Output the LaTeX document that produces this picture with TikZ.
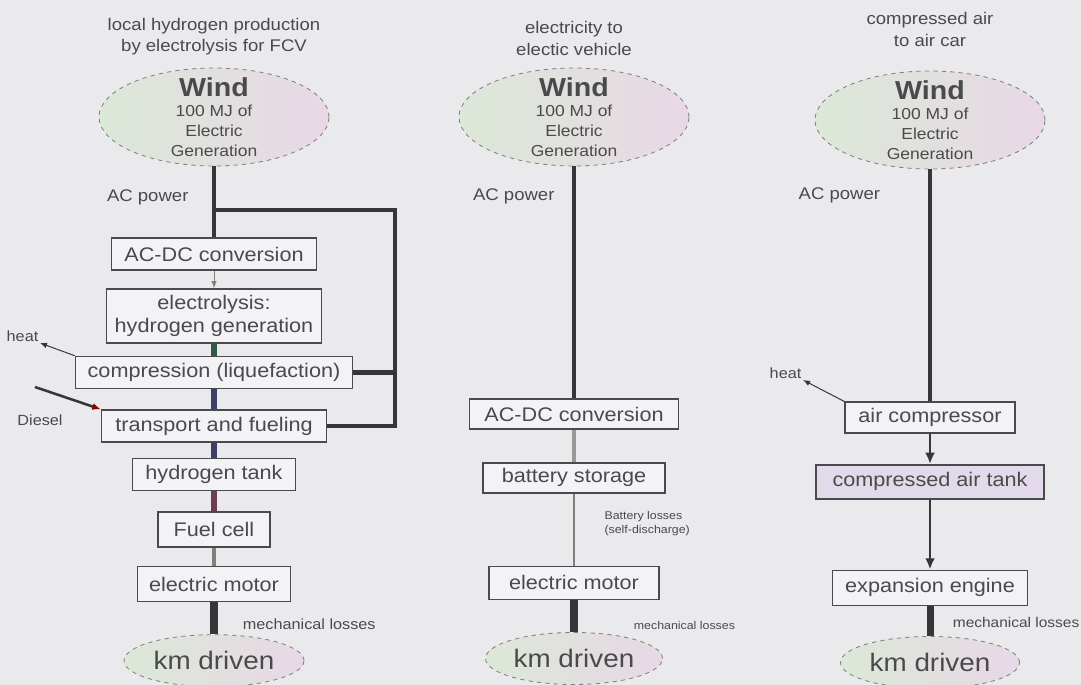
\documentclass[tikz,border=0pt]{standalone}
\usepackage{fontspec}
\setmainfont{Liberation Sans}[FakeStretch=1.1]
\usepackage{tikz}
\usetikzlibrary{calc, shapes.geometric, arrows.meta, positioning}
\definecolor{paperGray}{HTML}{EAE9EC}
\definecolor{boxFill}{HTML}{F3F2F4}
\definecolor{inkGray}{HTML}{4A4A4C}
\definecolor{lineDark}{HTML}{363638}
\definecolor{windGreen}{HTML}{DCE8D8}
\definecolor{windPink}{HTML}{E8D8E6}
\definecolor{tankLilac}{HTML}{E2DAEA}
\definecolor{h2Teal}{HTML}{2E5A4C}
\definecolor{h2Blue}{HTML}{3C3F6E}
\definecolor{h2Red}{HTML}{6E3E50}

\begin{document}
\begin{tikzpicture}[
    node distance=0.5cm,
    box/.style={rectangle, draw=inkGray, line width=1.1pt, fill=boxFill, text=inkGray, inner sep=0pt, align=center, font=\fontsize{14}{17}\selectfont},
    wind/.style={ellipse, draw=gray, dashed, line width=0.6pt, left color=windGreen, right color=windPink, inner xsep=0pt, inner ysep=-0.3cm, align=center, text=inkGray, minimum width=5.75cm, minimum height=2.45cm, font=\fontsize{11.3}{14.2}\selectfont},
    km/.style={ellipse, draw=gray, dashed, line width=0.6pt, left color=windGreen, right color=windPink, inner sep=0pt, text=inkGray, minimum height=1.3cm, font=\fontsize{18}{20}\selectfont},
    title/.style={align=center, text=inkGray, inner sep=0pt, font=\fontsize{12}{15.5}\selectfont},
    acnote/.style={text=inkGray, inner sep=1pt, font=\fontsize{12}{14}\selectfont},
    note/.style={text=inkGray, inner sep=1pt, font=\fontsize{10.5}{12}\selectfont},
    tiny/.style={text=inkGray, inner sep=1pt, align=left, font=\fontsize{8}{10}\selectfont},
    feed/.style={line width=3pt, lineDark},
    thin/.style={line width=1.6pt, gray},
    flow/.style={line width=2pt, lineDark, -{Latex[length=8pt, width=7pt]}},
    vent/.style={line width=0.7pt, lineDark, -{Latex[length=5pt, width=4pt]}}
]
\fill[paperGray] (0,0) rectangle (27.025,-17.125);
\useasboundingbox (0,0) rectangle (27.025,-17.125);

% hydrogen column
\node[wind] (wind1) at (5.35,-2.925) {{\fontsize{18.5}{20}\selectfont\bfseries Wind}\\100 MJ of\\Electric\\Generation};
\node[title, above=0.3cm of wind1] (title1) {local hydrogen production\\by electrolysis for FCV};
\node[box, below=1.775cm of wind1, minimum width=5.125cm, minimum height=0.8cm] (acdc1) {AC-DC conversion};
\node[box, below=0.43cm of acdc1, minimum width=5.375cm, minimum height=1.35cm] (elec) {electrolysis:\\hydrogen generation};
\node[box, below=0.3cm of elec, minimum width=6.925cm, minimum height=0.8cm] (comp) {compression (liquefaction)};
\node[box, below=0.5cm of comp, minimum width=5.625cm, minimum height=0.8cm] (trans) {transport and fueling};
\node[box, below=0.37cm of trans, minimum width=4.075cm, minimum height=0.8cm] (tank) {hydrogen tank};
\node[box, below=0.5cm of tank, minimum width=2.8cm, minimum height=0.875cm] (fuel) {Fuel cell};
\node[box, below=0.45cm of fuel, minimum width=3.825cm, minimum height=0.875cm] (motor1) {electric motor};
\node[km, below=0.8cm of motor1, minimum width=4.5cm] (km1) {km driven};

\node[note, anchor=south east] (heat1) at (1.0,-8.575) {heat};
\node[note] (diesel) at (1.0,-10.5) {Diesel};
\coordinate (dstart) at (0.875,-9.675);

\draw[feed] (wind1) -- node[acnote, pos=0.44, left=0.55cm] (acpow1) {AC power} (acdc1);
\coordinate (split) at ($(wind1.south)!0.61!(acdc1.north)$);
\coordinate (bus) at ($(split)+(4.525,0)$);
\draw[feed] (split) -- (bus) |- (trans.east);
\draw[feed] (comp.east) -- (comp.east -| bus);
\draw[vent, gray] (acdc1) -- (elec);
\draw[feed, h2Teal, line width=4pt] (elec) -- (comp);
\draw[feed, h2Blue, line width=4.5pt] (comp) -- (trans);
\draw[feed, h2Blue, line width=4.5pt] (trans) -- (tank);
\draw[feed, h2Red, line width=4pt] (tank) -- (fuel);
\draw[thin, line width=2.5pt] (fuel) -- (motor1);
\draw[feed, line width=5pt] (motor1) -- node[note, pos=0.68, right=0.6cm] (mech1) {mechanical losses} (km1);
\draw[vent] (comp.north west) -- (heat1.south east);
\draw[line width=1.8pt, lineDark, -{Latex[length=6pt, width=5pt, color=red!55!black]}] (dstart) -- (trans.north west);

% battery column
\node[wind] (wind2) at (14.35,-2.925) {{\fontsize{18.5}{20}\selectfont\bfseries Wind}\\100 MJ of\\Electric\\Generation};
\node[title, above=0.3cm of wind2] (title2) {electricity to\\electic vehicle};
\node[box, below=5.8cm of wind2, minimum width=5.225cm, minimum height=0.75cm] (acdc2) {AC-DC conversion};
\node[box, below=0.8cm of acdc2, minimum width=4.55cm, minimum height=0.75cm] (battery) {battery storage};
\node[box, below=1.8cm of battery, minimum width=4.25cm, minimum height=0.825cm] (motor2) {electric motor};
\node[km, below=0.8cm of motor2, minimum width=4.425cm] (km2) {km driven};

\draw[feed] (wind2) -- node[acnote, pos=0.13, left=0.4cm] (acpow2) {AC power} (acdc2);
\draw[thin, line width=3pt, gray!80] (acdc2) -- (battery);
\draw[thin] (battery) -- node[tiny, pos=0.42, right=0.7cm] (batloss) {Battery losses\\(self-discharge)} (motor2);
\draw[feed, line width=5pt] (motor2) -- node[tiny, pos=0.8, right=1.375cm] (mech2) {mechanical losses} (km2);

% air column
\node[wind] (wind3) at (23.25,-3.0) {{\fontsize{18.5}{20}\selectfont\bfseries Wind}\\100 MJ of\\Electric\\Generation};
\node[title, above=0.6cm of wind3] (title3) {compressed air\\to air car};
\node[box, below=5.8cm of wind3, minimum width=4.25cm, minimum height=0.775cm] (aircomp) {air compressor};
\node[box, fill=tankLilac, below=0.75cm of aircomp, minimum width=5.7cm, minimum height=0.85cm] (airtank) {compressed air tank};
\node[box, below=1.75cm of airtank, minimum width=4.875cm, minimum height=0.875cm] (expeng) {expansion engine};
\node[km, below=0.75cm of expeng, minimum width=4.475cm] (km3) {km driven};

\node[note, anchor=south east] (heat3) at (20.075,-9.5) {heat};

\draw[feed, line width=3.5pt] (wind3) -- node[acnote, pos=0.11, left=1.15cm] (acpow3) {AC power} (aircomp);
\draw[flow] (aircomp) -- (airtank);
\draw[flow] (airtank) -- (expeng);
\draw[feed, line width=5pt] (expeng) -- node[note, font=\fontsize{10}{12}\selectfont, pos=0.56, right=0.45cm] (mech3) {mechanical losses} (km3);
\draw[vent] (aircomp.north west) -- (heat3.south east);

\end{tikzpicture}
\end{document}
